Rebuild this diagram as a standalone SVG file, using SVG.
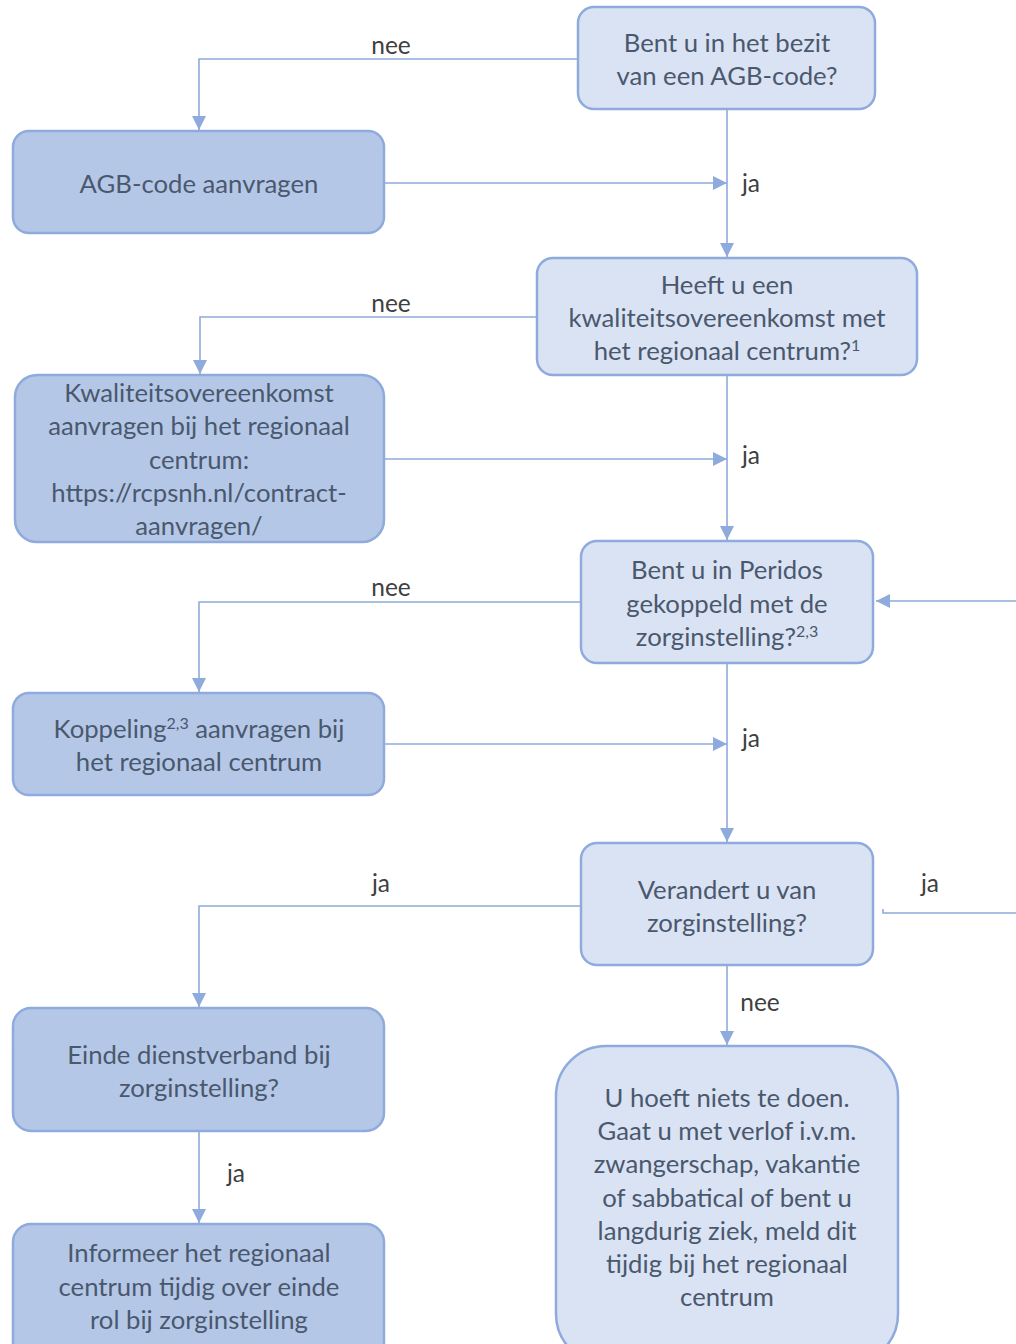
<svg xmlns="http://www.w3.org/2000/svg" width="1016" height="1344" viewBox="0 0 1016 1344">
<style>
.lt{fill:#dae3f3;stroke:#8faadc;stroke-width:2.5}
.dk{fill:#b4c7e7;stroke:#8faadc;stroke-width:2.5}
.t{font-family:Lato,"Open Sans",sans-serif;font-size:25.7px;fill:#4a586e;text-anchor:middle}
.sup{font-size:16px}
.c{fill:none;stroke:#8faadc;stroke-width:1.6}
.lbl{font-family:Lato,"Open Sans",sans-serif;font-size:24.5px;fill:#404040;text-anchor:middle}
</style>
<defs>
<marker id="ah" viewBox="0 0 14 14" refX="14" refY="7" markerWidth="14" markerHeight="14" markerUnits="userSpaceOnUse" orient="auto">
<path d="M0,0 L14,7 L0,14 Z" fill="#8faadc"/>
</marker>
</defs>
<g id="connectors">
<path class="c" d="M578,59 H199 V130" marker-end="url(#ah)"/>
<path class="c" d="M727,109 V257" marker-end="url(#ah)"/>
<path class="c" d="M384,183 H727" marker-end="url(#ah)"/>
<path class="c" d="M537,317 H200 V374" marker-end="url(#ah)"/>
<path class="c" d="M727,375 V540" marker-end="url(#ah)"/>
<path class="c" d="M384,459 H727" marker-end="url(#ah)"/>
<path class="c" d="M581,602 H199 V692" marker-end="url(#ah)"/>
<path class="c" d="M727,663 V842" marker-end="url(#ah)"/>
<path class="c" d="M384,744 H727" marker-end="url(#ah)"/>
<path class="c" d="M1016,601 H876" marker-end="url(#ah)"/>
<path class="c" d="M581,906 H199 V1007" marker-end="url(#ah)"/>
<path class="c" d="M883,909 V913 H1016"/>
<path class="c" d="M727,965 V1045" marker-end="url(#ah)"/>
<path class="c" d="M199,1131 V1223" marker-end="url(#ah)"/>
<text class="lbl" x="391" y="54">nee</text>
<text class="lbl" x="751" y="192">ja</text>
<text class="lbl" x="391" y="312">nee</text>
<text class="lbl" x="751" y="464">ja</text>
<text class="lbl" x="391" y="596">nee</text>
<text class="lbl" x="751" y="747">ja</text>
<text class="lbl" x="381" y="892">ja</text>
<text class="lbl" x="930" y="892">ja</text>
<text class="lbl" x="760" y="1011">nee</text>
<text class="lbl" x="236" y="1182">ja</text>
</g>
<g id="n1"><rect class="lt" x="578" y="7" width="297" height="102" rx="16"/>
<text class="t" x="727" y="52">Bent u in het bezit</text>
<text class="t" x="727" y="85">van een AGB-code?</text></g>
<g id="n2"><rect class="dk" x="13" y="131" width="371" height="102" rx="16"/>
<text class="t" x="199" y="193">AGB-code aanvragen</text></g>
<g id="n3"><rect class="lt" x="537" y="258" width="380" height="117" rx="16"/>
<text class="t" x="727" y="294">Heeft u een</text>
<text class="t" x="727" y="327">kwaliteitsovereenkomst met</text>
<text class="t" x="727" y="360">het regionaal centrum?<tspan class="sup" dy="-9">1</tspan></text></g>
<g id="n4"><rect class="dk" x="15" y="375" width="369" height="167" rx="22"/>
<text class="t" x="199" y="402">Kwaliteitsovereenkomst</text>
<text class="t" x="199" y="435">aanvragen bij het regionaal</text>
<text class="t" x="199" y="469">centrum:</text>
<text class="t" x="199" y="502">https://rcpsnh.nl/contract-</text>
<text class="t" x="199" y="535">aanvragen/</text></g>
<g id="n5"><rect class="lt" x="581" y="541" width="292" height="122" rx="16"/>
<text class="t" x="727" y="579">Bent u in Peridos</text>
<text class="t" x="727" y="613">gekoppeld met de</text>
<text class="t" x="727" y="646">zorginstelling?<tspan class="sup" dy="-9">2,3</tspan></text></g>
<g id="n6"><rect class="dk" x="13" y="693" width="371" height="102" rx="16"/>
<text class="t" x="199" y="738">Koppeling<tspan class="sup" dy="-9">2,3</tspan><tspan dy="9"> aanvragen bij</tspan></text>
<text class="t" x="199" y="771">het regionaal centrum</text></g>
<g id="n7"><rect class="lt" x="581" y="843" width="292" height="122" rx="16"/>
<text class="t" x="727" y="899">Verandert u van</text>
<text class="t" x="727" y="932">zorginstelling?</text></g>
<g id="n8"><rect class="dk" x="13" y="1008" width="371" height="123" rx="18"/>
<text class="t" x="199" y="1064">Einde dienstverband bij</text>
<text class="t" x="199" y="1097">zorginstelling?</text></g>
<g id="n9"><rect class="dk" x="13" y="1224" width="371" height="140" rx="18"/>
<text class="t" x="199" y="1262">Informeer het regionaal</text>
<text class="t" x="199" y="1296">centrum tijdig over einde</text>
<text class="t" x="199" y="1329">rol bij zorginstelling</text></g>
<g id="n10"><rect class="lt" x="556" y="1046" width="342" height="318" rx="50"/>
<text class="t" x="727" y="1107">U hoeft niets te doen.</text>
<text class="t" x="727" y="1140">Gaat u met verlof i.v.m.</text>
<text class="t" x="727" y="1173">zwangerschap, vakantie</text>
<text class="t" x="727" y="1207">of sabbatical of bent u</text>
<text class="t" x="727" y="1240">langdurig ziek, meld dit</text>
<text class="t" x="727" y="1273">tijdig bij het regionaal</text>
<text class="t" x="727" y="1306">centrum</text></g>
</svg>
